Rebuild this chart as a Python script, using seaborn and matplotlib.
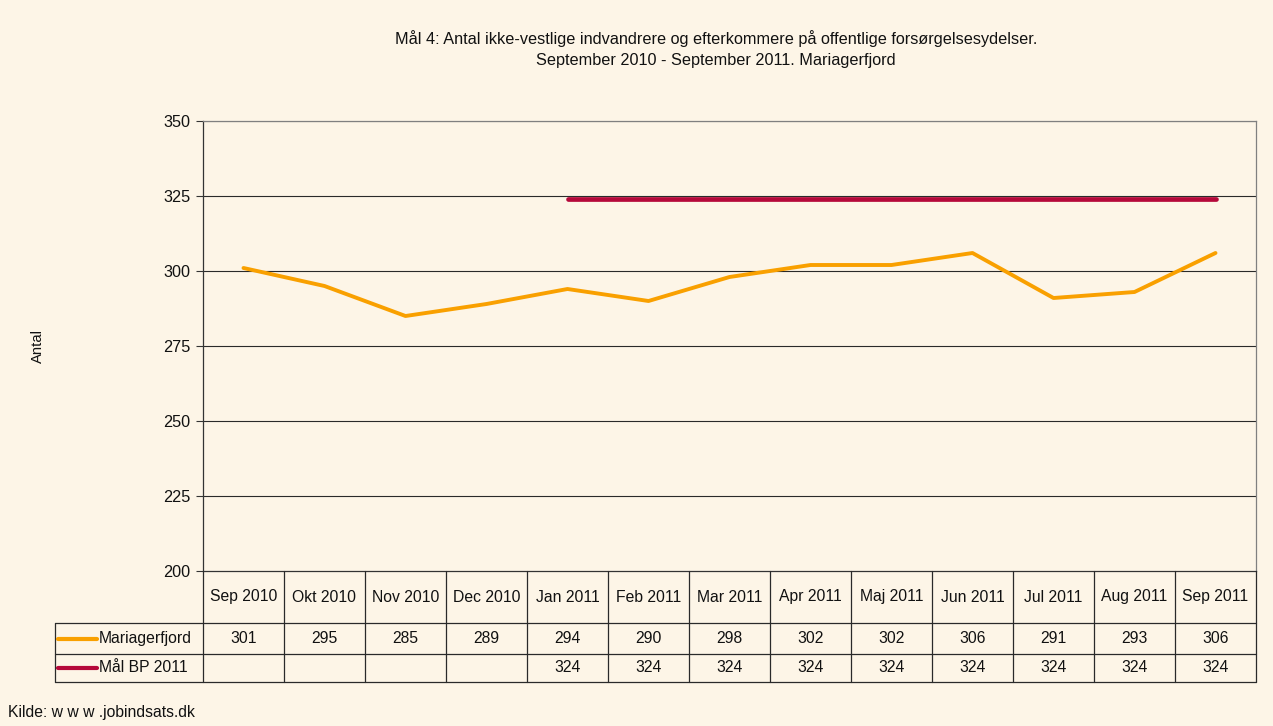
import matplotlib
matplotlib.use("Agg")
import matplotlib.pyplot as plt
import matplotlib.transforms as mtransforms
from matplotlib.lines import Line2D
import seaborn as sns
import pandas as pd
import numpy as np

months = ["Sep 2010", "Okt 2010", "Nov 2010", "Dec 2010", "Jan 2011", "Feb 2011",
          "Mar 2011", "Apr 2011", "Maj 2011", "Jun 2011", "Jul 2011", "Aug 2011", "Sep 2011"]
mariagerfjord = [301, 295, 285, 289, 294, 290, 298, 302, 302, 306, 291, 293, 306]
maal_bp = [None, None, None, None, 324, 324, 324, 324, 324, 324, 324, 324, 324]
series_names = ["Mariagerfjord", "Mål BP 2011"]
yticks = [200, 225, 250, 275, 300, 325, 350]

title = ("Mål 4: Antal ikke-vestlige indvandrere og efterkommere på offentlige forsørgelsesydelser.\n"
         "September 2010 - September 2011. Mariagerfjord")
source = "Kilde: w w w .jobindsats.dk"

BG = "#FDF5E7"
ORANGE = "#F9A000"
RED = "#B5083A"
sns.set_theme(style="white")
plt.rcParams["font.family"] = ["Liberation Sans", "DejaVu Sans"]
FS = 11.3
TXT = "#111111"

W, H = 1273, 726
fig = plt.figure(figsize=(W / 100, H / 100), dpi=100, facecolor=BG)

def fx(px):
    return px / W

def fy(py):
    return 1 - py / H

L, R, T, B = 203, 1256, 121, 571
ax = fig.add_axes([fx(L), fy(B), fx(R) - fx(L), fy(T) - fy(B)])
ax.set_facecolor(BG)

n = len(months)
df = pd.DataFrame({"x": np.arange(n), "Mariagerfjord": mariagerfjord,
                   "Mål BP 2011": [np.nan if v is None else v for v in maal_bp]})

sns.lineplot(data=df, x="x", y="Mariagerfjord", ax=ax, color=ORANGE, lw=2.8, zorder=3)
sns.lineplot(data=df.dropna(), x="x", y="Mål BP 2011", ax=ax, color=RED, lw=3.4, zorder=3)

ax.set_xlim(-0.5, n - 0.5)
ax.set_ylim(200, 350)
ax.set_yticks(yticks)
ax.set_xticks([])
ax.set_xlabel("")
ax.set_ylabel("")
for y in yticks[1:]:
    ax.axhline(y, color="#2a2a2a" if y < 350 else "#808080", lw=0.8, zorder=1)
ax.tick_params(axis="y", which="both", left=True, length=5, width=0.8, color="#333333",
               labelsize=FS + 0.4, labelcolor=TXT, pad=4, direction="out")
for s in ["top", "right"]:
    ax.spines[s].set_color("#808080")
ax.spines["left"].set_color("#333333")
ax.spines["bottom"].set_color("#333333")
for s in ax.spines.values():
    s.set_linewidth(0.9)

fig.text(fx(38), fy(346), "Antal", rotation=90, ha="center", va="center", fontsize=FS - 0.6, color=TXT)
fig.text(fx(716), fy(49), title, ha="center", va="center", fontsize=FS + 0.4, linespacing=1.5, color=TXT)
fig.text(fx(8), fy(712), source, ha="left", va="center", fontsize=FS, color=TXT)

# data table
trans = mtransforms.blended_transform_factory(ax.transData, fig.transFigure)
hdr_top, row1, row2, row3 = B, 623, 654, 682
lc = "#2a2a2a"
lw = 0.9
for yy in [row1, row2, row3]:
    fig.add_artist(Line2D([fx(55), fx(R)], [fy(yy), fy(yy)], color=lc, lw=lw))
fig.add_artist(Line2D([fx(55), fx(55)], [fy(row1), fy(row3)], color=lc, lw=lw))
for i in range(n + 1):
    xv = i - 0.5
    fig.add_artist(Line2D([xv, xv], [fy(hdr_top), fy(row3)], color=lc, lw=lw, transform=trans))

for i, m in enumerate(months):
    fig.text(i, fy((hdr_top + row1) / 2), m, ha="center", va="center", fontsize=FS, color=TXT, transform=trans)
    fig.text(i, fy((row1 + row2) / 2), str(mariagerfjord[i]), ha="center", va="center", fontsize=FS, color=TXT, transform=trans)
    if maal_bp[i] is not None:
        fig.text(i, fy((row2 + row3) / 2), str(maal_bp[i]), ha="center", va="center", fontsize=FS, color=TXT, transform=trans)

for name, col, y0, y1 in [(series_names[0], ORANGE, row1, row2),
                          (series_names[1], RED, row2, row3)]:
    ym = fy((y0 + y1) / 2)
    fig.add_artist(Line2D([fx(58), fx(97)], [ym, ym], color=col, lw=3))
    fig.text(fx(99), ym, name, ha="left", va="center", fontsize=FS, color=TXT)

fig.savefig("out.png", dpi=100, facecolor=BG)
